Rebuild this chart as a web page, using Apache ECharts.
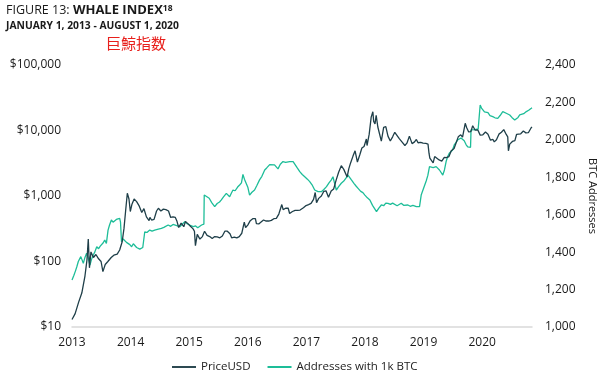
<!DOCTYPE html>
<html>
<head>
<meta charset="utf-8">
<script src="https://cdn.jsdelivr.net/npm/echarts@6/dist/echarts.min.js"></script>
<style>
html,body{margin:0;padding:0;background:#fff;}
#chart{width:601px;height:380px;}
</style>
</head>
<body>
<div id="chart"></div>
<script>
var FONT = '"Open Sans", "Noto Sans", sans-serif';

var yearLabels = [2013, 2014, 2015, 2016, 2017, 2018, 2019, 2020];
var priceTicks = [10, 100, 1000, 10000, 100000];
var addrTicks = [1000, 1200, 1400, 1600, 1800, 2000, 2200, 2400];

var priceDates = [
'2013-01-01','2013-01-20','2013-02-10','2013-03-01','2013-03-20','2013-04-01','2013-04-09','2013-04-16','2013-04-25','2013-05-10',
'2013-05-25','2013-06-10','2013-06-25','2013-07-06','2013-07-20','2013-08-05','2013-08-25','2013-09-10','2013-09-30','2013-10-15',
'2013-10-30','2013-11-10','2013-11-20','2013-11-30','2013-12-04','2013-12-10','2013-12-18','2013-12-28','2014-01-10','2014-01-25',
'2014-02-10','2014-02-25','2014-03-10','2014-03-25','2014-04-10','2014-04-15','2014-04-25','2014-05-10','2014-05-25','2014-06-05',
'2014-06-20','2014-07-05','2014-07-20','2014-08-05','2014-08-18','2014-09-01','2014-09-15','2014-09-25','2014-10-05','2014-10-20',
'2014-11-05','2014-11-15','2014-12-01','2014-12-15','2014-12-31','2015-01-08','2015-01-14','2015-01-25','2015-02-10','2015-02-25',
'2015-03-10','2015-03-25','2015-04-10','2015-04-25','2015-05-10','2015-05-25','2015-06-10','2015-06-25','2015-07-10','2015-07-25',
'2015-08-10','2015-08-20','2015-09-05','2015-09-20','2015-10-05','2015-10-20','2015-11-04','2015-11-12','2015-11-25','2015-12-10',
'2015-12-25','2016-01-10','2016-01-16','2016-01-30','2016-02-15','2016-02-28','2016-03-15','2016-03-30','2016-04-15','2016-04-30',
'2016-05-15','2016-05-30','2016-06-17','2016-06-25','2016-07-10','2016-07-25','2016-08-03','2016-08-20','2016-09-05','2016-09-20',
'2016-10-05','2016-10-25','2016-11-10','2016-11-25','2016-12-10','2016-12-25','2017-01-04','2017-01-12','2017-01-25','2017-02-10',
'2017-02-25','2017-03-10','2017-03-25','2017-04-10','2017-04-25','2017-05-10','2017-05-25','2017-06-10','2017-06-25','2017-07-15',
'2017-07-25','2017-08-05','2017-08-20','2017-09-01','2017-09-15','2017-09-30','2017-10-12','2017-10-25','2017-11-08','2017-11-12',
'2017-11-25','2017-12-07','2017-12-17','2017-12-22','2017-12-30','2018-01-06','2018-01-16','2018-01-28','2018-02-06','2018-02-20',
'2018-03-05','2018-03-18','2018-04-01','2018-04-15','2018-04-28','2018-05-10','2018-05-25','2018-06-10','2018-06-28','2018-07-10',
'2018-07-25','2018-08-10','2018-08-25','2018-09-05','2018-09-15','2018-10-01','2018-10-15','2018-11-01','2018-11-14','2018-11-20',
'2018-11-25','2018-12-05','2018-12-15','2018-12-24','2019-01-05','2019-01-20','2019-02-05','2019-02-20','2019-03-05','2019-03-20',
'2019-04-03','2019-04-20','2019-05-01','2019-05-15','2019-05-30','2019-06-10','2019-06-26','2019-07-05','2019-07-17','2019-07-30',
'2019-08-10','2019-08-25','2019-09-10','2019-09-24','2019-10-10','2019-10-26','2019-11-10','2019-11-25','2019-12-10','2019-12-18',
'2019-12-31','2020-01-15','2020-01-30','2020-02-13','2020-02-28','2020-03-08','2020-03-12','2020-03-20','2020-04-05','2020-04-20',
'2020-04-30','2020-05-10','2020-05-25','2020-06-10','2020-06-25','2020-07-10','2020-07-22','2020-07-27','2020-08-01'
];
var priceValues = [
13,16,24,33,60,105,220,80,140,115,
128,110,100,70,90,100,115,125,130,150,
200,320,600,1100,1150,900,580,750,900,820,
700,560,640,480,420,470,430,440,590,650,
590,630,620,590,470,480,470,410,330,385,
340,410,375,345,315,290,175,260,220,240,
290,250,240,225,240,237,230,245,290,290,
265,230,235,230,240,270,400,330,360,420,
450,450,380,375,405,430,415,415,425,450,
455,530,740,620,650,655,540,580,605,605,
610,660,715,740,770,890,1130,790,920,1000,
1180,1200,960,1190,1280,1750,2300,2900,2550,1950,
2600,3200,4100,4900,3300,4300,5400,5700,7400,5900,
8800,16000,19300,13800,12600,17100,11300,11500,6900,11200,
11500,8200,6900,8000,9400,9000,7500,6700,5900,6400,
8200,6300,6700,7300,6500,6600,6400,6350,6200,4500,
3800,3900,3200,4000,3800,3550,3400,3900,3850,4000,
4900,5300,5400,8000,8600,7900,12900,11000,9500,9600,
11800,10100,10200,8500,8600,9500,8800,7100,7300,6700,
7200,8800,9400,10300,8700,8000,4900,6200,6800,7000,
8700,8700,8900,9800,9200,9250,9500,11000,11300
];

var addrDates = [
'2013-01-01','2013-01-12','2013-01-22','2013-01-30','2013-02-08','2013-02-16','2013-02-23','2013-03-02','2013-03-10','2013-03-20',
'2013-03-30','2013-04-08','2013-04-19','2013-04-28','2013-05-09','2013-05-18','2013-05-30','2013-06-10','2013-06-20','2013-06-28',
'2013-07-08','2013-07-17','2013-07-27','2013-08-06','2013-08-15','2013-08-26','2013-09-05','2013-09-16','2013-09-25','2013-10-05',
'2013-10-15','2013-10-20','2013-10-26','2013-11-05','2013-11-14','2013-11-25','2013-12-05','2013-12-15','2013-12-26','2014-01-05',
'2014-01-15','2014-01-25','2014-02-03','2014-02-13','2014-02-23','2014-03-03','2014-03-09','2014-03-15','2014-03-28','2014-04-14',
'2014-04-28','2014-05-14','2014-05-30','2014-06-10','2014-06-23','2014-07-08','2014-07-20','2014-08-03','2014-08-18','2014-09-01',
'2014-09-12','2014-09-28','2014-10-12','2014-10-28','2014-11-11','2014-11-25','2014-12-10','2014-12-20','2015-01-01','2015-01-15',
'2015-01-28','2015-02-09','2015-02-20','2015-03-01','2015-03-06','2015-03-08','2015-03-20','2015-04-07','2015-04-22','2015-05-10',
'2015-05-25','2015-06-08','2015-06-19','2015-07-02','2015-07-19','2015-08-08','2015-08-18','2015-08-28','2015-09-10','2015-09-25',
'2015-10-07','2015-10-18','2015-10-27','2015-11-05','2015-11-16','2015-11-26','2015-12-06','2015-12-20','2016-01-05','2016-01-18',
'2016-02-04','2016-02-18','2016-03-06','2016-03-18','2016-03-26','2016-04-05','2016-04-15','2016-05-04','2016-05-15','2016-05-25',
'2016-06-08','2016-06-24','2016-07-10','2016-07-22','2016-08-03','2016-08-14','2016-08-24','2016-09-03','2016-09-18','2016-10-03',
'2016-10-18','2016-11-02','2016-11-18','2016-12-02','2016-12-16','2017-01-01','2017-01-21','2017-02-10','2017-02-25','2017-03-13',
'2017-03-28','2017-04-10','2017-04-21','2017-04-30','2017-05-11','2017-05-25','2017-06-10','2017-06-25','2017-07-08','2017-07-20',
'2017-08-10','2017-08-25','2017-09-08','2017-09-19','2017-10-05','2017-10-18','2017-10-30','2017-11-14','2017-11-29','2017-12-15',
'2018-01-08','2018-01-22','2018-02-06','2018-02-20','2018-03-05','2018-03-18','2018-04-02','2018-04-15','2018-04-27','2018-05-12',
'2018-05-24','2018-06-06','2018-06-20','2018-07-02','2018-07-16','2018-07-30','2018-08-15','2018-08-25','2018-09-05','2018-09-15',
'2018-09-24','2018-10-04','2018-10-20','2018-11-03','2018-11-13','2018-11-23','2018-12-03','2018-12-15','2019-01-02','2019-01-12',
'2019-01-22','2019-02-01','2019-02-11','2019-02-21','2019-03-03','2019-03-12','2019-03-22','2019-04-02','2019-04-11','2019-04-21',
'2019-05-01','2019-05-11','2019-05-21','2019-06-01','2019-06-10','2019-06-20','2019-07-01','2019-07-11','2019-07-21','2019-07-28',
'2019-07-31','2019-08-12','2019-08-22','2019-09-01','2019-09-12','2019-09-20','2019-09-24','2019-10-02','2019-10-10','2019-10-20',
'2019-10-30','2019-11-10','2019-11-22','2019-12-09','2019-12-22','2020-01-08','2020-01-22','2020-02-07','2020-02-18','2020-02-28',
'2020-03-10','2020-03-20','2020-04-02','2020-04-19','2020-04-29','2020-05-09','2020-05-19','2020-05-30','2020-06-12','2020-06-28',
'2020-07-12','2020-07-20','2020-07-28','2020-08-01'
];
var addrValues = [
1251,1275,1300,1322,1350,1342,1376,1360,1340,1372,
1394,1370,1331,1360,1385,1400,1429,1418,1432,1429,
1450,1465,1447,1518,1545,1572,1560,1563,1575,1572,
1581,1560,1456,1470,1465,1452,1447,1440,1429,1445,
1438,1425,1420,1416,1411,1425,1429,1509,1505,1518,
1512,1518,1522,1515,1527,1532,1528,1545,1538,1548,
1545,1540,1536,1550,1563,1552,1545,1550,1536,1540,
1530,1536,1545,1554,1550,1705,1700,1688,1665,1643,
1660,1668,1679,1695,1714,1696,1715,1732,1728,1748,
1759,1770,1815,1790,1786,1745,1705,1720,1732,1755,
1786,1805,1839,1850,1857,1868,1875,1866,1860,1845,
1870,1884,1880,1888,1884,1878,1884,1875,1850,1830,
1815,1803,1790,1777,1760,1732,1723,1723,1735,1750,
1770,1785,1803,1770,1732,1750,1768,1780,1795,1812,
1786,1768,1752,1741,1725,1718,1705,1690,1679,1650,
1616,1635,1652,1648,1662,1661,1655,1662,1652,1648,
1658,1661,1650,1655,1652,1645,1650,1640,1643,1648,
1643,1705,1745,1780,1810,1857,1848,1852,1857,1850,
1839,1832,1812,1839,1884,1910,1928,1935,1946,1973,
1985,1999,1999,2010,2017,1995,1975,1962,1955,1960,
2053,2048,2055,2053,2058,2062,2186,2170,2160,2150,
2142,2145,2130,2124,2118,2115,2130,2151,2145,2142,
2138,2133,2120,2106,2106,2120,2133,2128,2140,2151,
2158,2163,2169,2172
];

function zip(a, b) { return a.map(function (d, i) { return [d, b[i]]; }); }
function comma(v) { return String(v).replace(/\B(?=(\d{3})+(?!\d))/g, ','); }

var chart = echarts.init(document.getElementById('chart'), null, { renderer: 'canvas' });
var option = {
  animation: false,
  backgroundColor: '#ffffff',
  textStyle: { fontFamily: FONT },
  title: {
    left: 6, top: 4, padding: [0, 0, 0, 0],
    text: '{a|FIGURE 13: }{b|WHALE INDEX}{c|18}',
    textStyle: {
      rich: {
        a: { fontFamily: FONT, fontSize: 12.5, color: '#1a1a1a', fontWeight: 'normal' },
        b: { fontFamily: FONT, fontSize: 13, color: '#1a1a1a', fontWeight: 700 },
        c: { fontFamily: FONT, fontSize: 8.5, color: '#1a1a1a', fontWeight: 700, verticalAlign: 'top' }
      }
    },
    subtext: 'JANUARY 1, 2013 - AUGUST 1, 2020',
    subtextStyle: { fontFamily: FONT, fontSize: 10.3, color: '#1a1a1a', fontWeight: 'bold' },
    itemGap: 4
  },
  graphic: [{
    type: 'text', left: 106, top: 36,
    style: { text: '巨鯨指数', fontFamily: '"Noto Sans CJK JP"', fontSize: 15, fill: '#e8201c' }
  }],
  legend: {
    left: 172, top: 361, padding: 0,
    itemWidth: 24, itemHeight: 2, itemGap: 17, icon: 'rect',
    textStyle: { fontFamily: FONT, fontSize: 11.5, color: '#222' },
    data: ['PriceUSD', 'Addresses with 1k BTC']
  },
  grid: { left: 72, right: 69, top: 65, bottom: 53, containLabel: false, outerBoundsMode: 'none' },
  xAxis: [{
    type: 'time', min: '2013-01-01', max: '2020-08-01', show: false
  }, {
    type: 'value', position: 'bottom', min: 2013, max: 2020.85, interval: 1,
    axisLine: { show: true, lineStyle: { color: '#d9d9d9', width: 1.5 } },
    axisTick: { show: false }, splitLine: { show: false },
    axisLabel: {
      margin: 10, fontFamily: FONT, fontSize: 12, color: '#1a1a1a',
      showMaxLabel: false,
      formatter: function (v) { return yearLabels.indexOf(v) >= 0 ? String(v) : ''; }
    }
  }],
  yAxis: [{
    type: 'log', logBase: 10, min: priceTicks[0], max: priceTicks[priceTicks.length - 1],
    axisLine: { show: false }, axisTick: { show: false }, splitLine: { show: false },
    axisLabel: { margin: 11, fontFamily: FONT, fontSize: 12, color: '#1a1a1a',
      formatter: function (v) { return '$' + comma(Math.round(v)); } }
  }, {
    type: 'value', position: 'right', min: addrTicks[0], max: addrTicks[addrTicks.length - 1], interval: 200,
    axisLine: { show: false }, axisTick: { show: false }, splitLine: { show: false },
    axisLabel: { margin: 13, fontFamily: FONT, fontSize: 12, color: '#1a1a1a',
      formatter: function (v) { return comma(v); } },
    name: 'BTC Addresses', nameLocation: 'middle', nameGap: 53, nameRotate: -90,
    nameTextStyle: { fontFamily: FONT, fontSize: 11, color: '#1a1a1a' }
  }],
  series: [{
    name: 'PriceUSD', type: 'line', xAxisIndex: 0, yAxisIndex: 0,
    data: zip(priceDates, priceValues), showSymbol: false, symbol: 'none', z: 3,
    lineStyle: { color: '#1f3f49', width: 1.3 }, itemStyle: { color: '#2d4a52' }
  }, {
    name: 'Addresses with 1k BTC', type: 'line', xAxisIndex: 0, yAxisIndex: 1,
    data: zip(addrDates, addrValues), showSymbol: false, symbol: 'none', z: 2,
    lineStyle: { color: '#1dbd98', width: 1.3 }, itemStyle: { color: '#1dbd98' }
  }]
};
chart.setOption(option);
</script>
</body>
</html>
